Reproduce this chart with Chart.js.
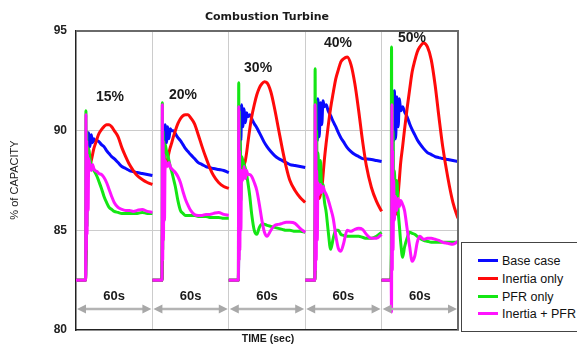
<!DOCTYPE html>
<html>
<head>
<title>Combustion Turbine</title>
<script src="https://cdn.jsdelivr.net/npm/chart.js"></script>
<style>
  body {margin: 0; background: #fff;}
  #wrap {position: relative; width: 577px; height: 347px; overflow: hidden;}
  #legend {position: absolute; left: 461px; top: 242px; width: 130px; height: 90px; border: 1px solid #444;
           box-sizing: border-box; font: 12.5px "Liberation Sans", Arial, sans-serif; color: #111; background: #fff;}
  #legend .row {position: absolute; left: 16px; height: 16px; line-height: 16px; white-space: nowrap;}
  #legend .row span {display: inline-block; width: 20px; height: 3px; vertical-align: middle; margin-right: 4px; position: relative; top: -1px;}
</style>
</head>
<body>
<div id="wrap">
  <canvas id="myChart" width="577" height="347"></canvas>
  <div id="legend"></div>
</div>
<script>
// seconds inside one 60 s window (same grid for every window)
var T = [0, 7.5, 7.8, 8.1, 8.4, 8.7, 9, 9.5, 10, 11, 12, 13, 14, 15, 16.5, 18, 20, 22, 24, 26, 28, 30, 33, 36, 39, 42, 45, 48, 52, 56, 60];

var panelLabels = ['15%', '20%', '30%', '40%', '50%'];
var seriesNames = ['Base case', 'Inertia only', 'PFR only', 'Inertia + PFR'];
var yTicks = [80, 85, 90, 95];

// one array per window (15%, 20%, 30%, 40%, 50%)
var baseCase = [
  [82.5, 82.5, 83.5, 86, 88.5, 87, 89.8, 88.6, 89.9, 89.2, 89.8, 89.4, 89.6, 89.5, 89.5, 89.45, 89.3, 89.2, 89.0, 88.85, 88.7, 88.6, 88.4, 88.2, 88.1, 88.0, 87.95, 87.9, 87.85, 87.8, 87.75],
  [82.5, 82.5, 84, 86.5, 89, 87.5, 90.2, 89.0, 90.3, 89.4, 90.2, 89.6, 90.1, 90.0, 90.0, 89.85, 89.65, 89.5, 89.3, 89.1, 88.95, 88.8, 88.6, 88.4, 88.3, 88.2, 88.15, 88.1, 88.05, 88.0, 87.9],
  [82.5, 82.5, 84, 87, 90, 88, 91.2, 89.5, 91.3, 90.2, 91.1, 90.4, 90.9, 90.7, 90.8, 90.6, 90.35, 90.15, 89.9, 89.65, 89.4, 89.2, 88.95, 88.75, 88.6, 88.5, 88.4, 88.3, 88.25, 88.2, 88.15],
  [82.5, 82.5, 84, 87, 90.5, 88, 91.5, 89.5, 91.6, 89.7, 91.4, 90.3, 91.5, 91.2, 91.3, 91.0, 90.75, 90.45, 90.2, 89.9, 89.65, 89.45, 89.15, 88.95, 88.8, 88.7, 88.6, 88.58, 88.55, 88.5, 88.45],
  [82.5, 82.5, 84, 87, 90.5, 88, 91.8, 89.5, 92.0, 89.6, 91.7, 90.2, 91.6, 91.0, 91.2, 90.95, 90.7, 90.35, 90.05, 89.8, 89.55, 89.35, 89.1, 88.9, 88.8, 88.7, 88.65, 88.6, 88.55, 88.5, 88.45]
];
var inertiaOnly = [
  [82.5, 82.5, 84, 86.5, 87.5, 87, 88, 87.8, 88.1, 88.3, 88.5, 88.8, 89.1, 89.3, 89.6, 89.85, 90.05, 90.2, 90.3, 90.3, 90.2, 90.0, 89.7, 89.15, 88.7, 88.3, 88.0, 87.75, 87.55, 87.4, 87.3],
  [82.5, 82.5, 84.5, 87, 88, 87.5, 88.3, 88.0, 88.3, 88.4, 88.6, 88.9, 89.15, 89.35, 89.7, 90.0, 90.35, 90.6, 90.75, 90.8, 90.8, 90.65, 90.35, 89.8, 89.2, 88.65, 88.15, 87.75, 87.4, 87.2, 87.1],
  [82.5, 82.5, 84.5, 87, 88, 87.5, 88.2, 87.8, 88.0, 88.1, 88.3, 88.5, 88.9, 89.4, 90.1, 90.7, 91.3, 91.8, 92.15, 92.35, 92.45, 92.4, 91.95, 91.1, 90.1, 89.1, 88.2, 87.5, 87.0, 86.65, 86.4],
  [82.5, 82.5, 84.5, 86.5, 87, 86.5, 87, 86.6, 86.8, 86.6, 86.8, 87.05, 87.75, 88.5, 89.4, 90.2, 91.15, 91.9, 92.6, 93.05, 93.45, 93.6, 93.7, 93.3, 92.35, 91.0, 89.5, 88.25, 87.15, 86.45, 85.95],
  [82.5, 82.5, 84, 86, 86.5, 85.5, 86.2, 85.8, 86.0, 85.8, 86.0, 86.8, 87.6, 88.4, 89.2, 90.05, 91.1, 92.05, 92.95, 93.5, 93.95, 94.2, 94.4, 94.2, 93.55, 92.3, 90.7, 89.2, 87.65, 86.4, 85.6]
];
var pfrOnly = [
  [82.5, 82.5, 91.0, 84.5, 90.0, 85.2, 89.2, 88.2, 89.1, 88.6, 88.3, 88.1, 88.0, 87.9, 87.7, 87.45, 87.1, 86.7, 86.4, 86.15, 86.05, 85.95, 85.9, 85.85, 85.85, 85.85, 85.85, 85.85, 85.9, 85.85, 85.85],
  [82.5, 82.5, 91.4, 84.0, 90.0, 85.0, 89.5, 88.0, 89.3, 89.0, 88.8, 88.5, 88.2, 88.0, 87.6, 87.2, 86.5, 86.0, 85.85, 85.75, 85.75, 85.75, 85.75, 85.7, 85.7, 85.7, 85.65, 85.65, 85.65, 85.6, 85.6],
  [82.5, 82.5, 92.4, 84.5, 91.0, 85.5, 89.5, 86.5, 88.7, 88.5, 88.3, 88.1, 87.8, 87.4, 86.7, 85.8, 85.0, 84.8, 85.15, 85.3, 85.3, 85.25, 85.2, 85.15, 85.1, 85.05, 85.0, 85.0, 84.95, 84.95, 84.9],
  [82.5, 82.5, 93.1, 84.5, 91.5, 85.0, 90.0, 86.0, 88.9, 87.2, 88.5, 87.0, 87.3, 86.5, 85.9, 85.0, 84.05, 84.6, 85.0, 85.0, 84.8, 84.75, 84.7, 84.7, 84.7, 84.7, 84.65, 84.6, 84.6, 84.7, 84.9],
  [82.5, 82.5, 94.2, 84.0, 92.0, 85.0, 90.0, 86.0, 88.0, 86.5, 87.5, 86.0, 85.2, 84.4, 83.65, 84.15, 84.6, 84.9, 84.85, 84.8, 84.7, 84.6, 84.5, 84.45, 84.4, 84.4, 84.4, 84.4, 84.4, 84.4, 84.4]
];
var inertiaPfr = [
  [82.5, 82.5, 90.8, 84.0, 89.5, 84.8, 88.8, 86.0, 88.6, 88.2, 88.0, 88.3, 88.1, 88.0, 87.95, 87.85, 87.8, 87.65, 87.4, 87.05, 86.7, 86.4, 86.15, 86.05, 86.0, 86.0, 85.95, 86.0, 86.05, 85.95, 85.9],
  [82.5, 82.5, 91.3, 83.5, 89.5, 84.5, 88.8, 85.5, 88.5, 88.3, 88.2, 88.4, 88.2, 88.1, 88.0, 87.9, 87.7, 87.4, 86.95, 86.55, 86.25, 86.0, 85.8, 85.75, 85.75, 85.8, 85.8, 85.85, 85.9, 85.8, 85.75],
  [82.5, 82.5, 91.2, 83.5, 89.0, 84.0, 88.0, 85.0, 88.0, 87.5, 88.2, 87.6, 88.0, 87.8, 87.8, 87.7, 87.4, 87.0, 86.3, 85.5, 84.9, 84.7, 85.0, 85.25, 85.3, 85.35, 85.4, 85.4, 85.35, 85.1, 84.9],
  [82.5, 82.5, 91.3, 83.0, 89.5, 83.5, 88.0, 84.5, 87.4, 86.8, 87.3, 86.9, 87.2, 87.0, 86.8, 86.55, 86.1, 85.6, 84.75, 84.1, 83.95, 84.3, 85.0, 84.95, 85.05, 85.1, 85.05, 84.8, 84.6, 84.6, 84.8],
  [82.5, 82.5, 80.9, 91.3, 83.0, 89.0, 84.0, 87.5, 85.5, 86.7, 86.0, 86.6, 86.2, 86.5, 86.3, 86.0, 85.1, 84.2, 83.45, 83.7, 84.4, 84.7, 84.55, 84.6, 84.6, 84.55, 84.5, 84.4, 84.35, 84.3, 84.45]
];

var colors = ['#0a0aff', '#ff0a0a', '#14e614', '#ff14ff'];

function toPoints(panels) {
    var pts = [];
    panels.forEach(function(vals, k) {
        vals.forEach(function(v, i) { pts.push({x: k * 60 + T[i], y: v}); });
        pts.push({x: k * 60 + 60, y: null});   // break between windows
    });
    return pts;
}

var allSeries = [baseCase, inertiaOnly, pfrOnly, inertiaPfr];
var drawOrder = [3, 2, 1, 0];   // magenta on top, then green, red, blue
var datasets = allSeries.map(function(s, i) {
    return {
        label: seriesNames[i],
        data: toPoints(s),
        borderColor: colors[i],
        borderWidth: 3,
        pointRadius: 0,
        cubicInterpolationMode: 'monotone',
        spanGaps: false,
        order: drawOrder[i]
    };
});

// legend box
var lg = document.getElementById('legend');
seriesNames.forEach(function(name, i) {
    var row = document.createElement('div');
    row.className = 'row';
    row.style.top = [10, 28, 46, 63][i] + 'px';
    row.innerHTML = '<span style="background:' + colors[i] + '"></span>' + name;
    lg.appendChild(row);
});

var labelSpots = [[26.7, 91.7], [24, 91.8], [23, 93.15], [25.8, 94.4], [23.9, 94.65]];

var overlay = {
    id: 'overlay',
    afterDatasetsDraw: function(chart) {
        var ctx = chart.ctx, xs = chart.scales.x, ys = chart.scales.y, a = chart.chartArea;
        ctx.save();
        // top/right frame
        ctx.strokeStyle = '#6a6a6a';
        ctx.lineWidth = 2;
        ctx.beginPath();
        ctx.moveTo(a.left, a.top);
        ctx.lineTo(a.right, a.top);
        ctx.lineTo(a.right, a.bottom);
        ctx.stroke();

        var ay = ys.getPixelForValue(81.05);
        var ty = ys.getPixelForValue(81.7);
        for (var k = 0; k < 5; k++) {
            var x0 = xs.getPixelForValue(k * 60) + 1;
            var x1 = xs.getPixelForValue(k * 60 + 60) - 1;
            ctx.strokeStyle = '#b4b4b4';
            ctx.fillStyle = '#a8a8a8';
            ctx.lineWidth = 2.5;
            ctx.beginPath();
            ctx.moveTo(x0 + 6, ay);
            ctx.lineTo(x1 - 6, ay);
            ctx.stroke();
            ctx.beginPath();
            ctx.moveTo(x0, ay); ctx.lineTo(x0 + 9, ay - 4.5); ctx.lineTo(x0 + 9, ay + 4.5); ctx.closePath();
            ctx.moveTo(x1, ay); ctx.lineTo(x1 - 9, ay - 4.5); ctx.lineTo(x1 - 9, ay + 4.5); ctx.closePath();
            ctx.fill();

            ctx.fillStyle = '#1a1a1a';
            ctx.textAlign = 'center';
            ctx.textBaseline = 'middle';
            ctx.font = 'bold 13px "Liberation Sans", Arial, sans-serif';
            ctx.fillText('60s', (x0 + x1) / 2, ty);

            ctx.font = 'bold 14px "Liberation Sans", Arial, sans-serif';
            ctx.fillText(panelLabels[k], xs.getPixelForValue(k * 60 + labelSpots[k][0]), ys.getPixelForValue(labelSpots[k][1]));
        }
        ctx.restore();
    },
    afterDraw: function(chart) {
        var ctx = chart.ctx;
        ctx.save();
        ctx.fillStyle = '#1a1a1a';
        ctx.textAlign = 'center';
        ctx.textBaseline = 'middle';
        ctx.font = 'bold 11px "DejaVu Sans", sans-serif';
        ctx.fillText('Combustion Turbine', 267, 17);
        ctx.font = 'bold 10.5px "Liberation Sans", Arial, sans-serif';
        ctx.fillText('TIME (sec)', 268, 339);
        ctx.translate(15, 180);
        ctx.rotate(-Math.PI / 2);
        ctx.font = '11px "Liberation Sans", Arial, sans-serif';
        ctx.fillText('% of CAPACITY', 0, 0);
        ctx.restore();
    }
};

new Chart(document.getElementById('myChart'), {
    type: 'line',
    data: {datasets: datasets},
    options: {
        responsive: false,
        animation: false,
        events: [],
        layout: {padding: {left: 0, top: 31, right: 119, bottom: 17}},
        plugins: {legend: {display: false}, tooltip: {enabled: false}},
        scales: {
            x: {
                type: 'linear',
                min: 0, max: 300,
                ticks: {display: false, stepSize: 60},
                grid: {
                    drawTicks: false,
                    color: function(c) { return (c.tick && c.tick.value > 0 && c.tick.value < 300) ? '#cccccc' : 'rgba(0,0,0,0)'; }
                },
                border: {color: '#222', width: 1.5},
                afterFit: function(s) { s.height = 0; }
            },
            y: {
                min: 80, max: 95,
                afterBuildTicks: function(s) { s.ticks = yTicks.map(function(v) { return {value: v}; }); },
                ticks: {
                    padding: 9,
                    color: '#222',
                    font: {family: '"Liberation Sans", Arial, sans-serif', size: 12, weight: 'bold'}
                },
                grid: {
                    drawTicks: false,
                    color: function(c) { return (c.tick && c.tick.value > 80 && c.tick.value < 95) ? '#cccccc' : 'rgba(0,0,0,0)'; }
                },
                border: {color: '#222', width: 1.5},
                afterFit: function(s) { s.width = 76; }
            }
        }
    },
    plugins: [overlay]
});
</script>
</body>
</html>
